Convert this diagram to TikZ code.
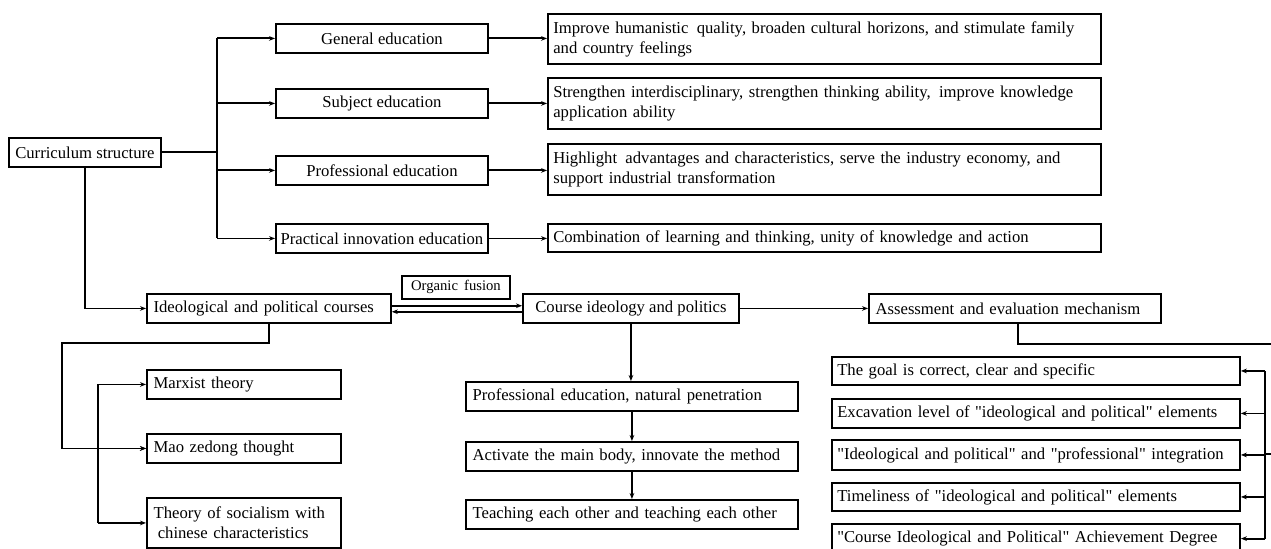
\documentclass[tikz,border=0pt]{standalone}
\usepackage{fontspec}
\setmainfont{Liberation Serif}
\usetikzlibrary{positioning, arrows.meta}
% straight quotes (no tex-text mapping)
\font\straightq="Liberation Serif" at 12.5pt
\newcommand{\sq}{{\straightq\char34}}

\begin{document}
\begin{tikzpicture}[x=0.75pt, y=-0.75pt,
    box/.style={draw, line width=1.4pt, anchor=north west, inner sep=0pt,
        minimum height=21.75pt, font=\fontsize{12.5}{15}\selectfont},
    cbox/.style={box, align=center},
    lbox/.style={box, align=left, inner xsep=5pt},
    aimbox/.style={lbox, inner xsep=4pt, text width=407pt},
    wire/.style={line width=1.4pt},
    link/.style={wire, -{Stealth[length=4.5pt, width=3.5pt]}}]
\useasboundingbox (0,0) rectangle (1271,549);

% Curriculum structure and its four parts
\node[cbox, minimum width=114pt] (cur) at (8,137) {Curriculum structure};
\node[cbox, minimum width=159pt] (gen) at (275,23) {General education};
\node[cbox, minimum width=159pt] (sub) at (275,88) {Subject education};
\node[cbox, minimum width=159pt] (pro) at (275,155) {Professional education};
\node[cbox, minimum width=159pt] (pra) at (275,223) {Practical innovation education};

% Aims of each part
\node[aimbox, minimum height=37.5pt] (imp) at (547,13)
    {Improve humanistic \,quality, broaden cultural horizons, and stimulate family\\and country feelings};
\node[aimbox, minimum height=38pt] (str) at (547,77)
    {Strengthen interdisciplinary, strengthen thinking ability, \,improve knowledge\\application ability};
\node[aimbox, minimum height=38pt] (hig) at (547,143)
    {Highlight \,advantages and characteristics, serve the industry economy, and\\support industrial transformation};
\node[aimbox, minimum height=21pt] (com) at (547,223)
    {Combination of learning and thinking, unity of knowledge and action};

% Middle row
\node[lbox, text width=173pt] (ideo) at (146,293) {Ideological and political courses};
\node[cbox, minimum width=81pt, minimum height=17pt, font=\fontsize{11}{13}\selectfont] (fusion) at (401,275)
    {Organic \,fusion};
\node[cbox, minimum width=162pt] (course) at (522,293) {Course ideology and politics};
\node[lbox, text width=209pt] (assess) at (868,293) {Assessment and evaluation mechanism};

% Ideological and political courses
\node[lbox, text width=135.5pt] (marx) at (146,369) {Marxist theory};
\node[lbox, text width=135.5pt] (mao) at (146,433) {Mao zedong thought};
\node[lbox, text width=135.5pt, minimum height=37.5pt] (soc) at (146,497)
    {Theory of socialism with\\\hspace{0.25em}chinese characteristics};

% Course ideology and politics
\node[lbox, text width=239pt] (pen) at (465,381) {Professional education, natural penetration};
\node[lbox, text width=239pt] (act) at (465,441) {Activate the main body, innovate the method};
\node[lbox, text width=239pt] (teach) at (465,499) {Teaching each other and teaching each other};

% Assessment and evaluation mechanism
\node[lbox, inner xsep=4pt, text width=298pt, minimum height=21pt] (goal) at (831,356)
    {The goal is correct, clear and specific};
\node[lbox, inner xsep=4pt, text width=298pt] (exc) at (831,398)
    {Excavation level of \sq{}ideological and political\sq{} elements};
\node[lbox, inner xsep=4pt, text width=298pt, minimum height=22.5pt] (integ) at (831,439)
    {\sq{}Ideological and political\sq{} and \sq{}professional\sq{} integration};
\node[lbox, inner xsep=4pt, text width=298pt, minimum height=21pt] (time) at (831,482)
    {Timeliness of \sq{}ideological and political\sq{} elements};
\node[lbox, inner xsep=4pt, text width=298pt, minimum height=22pt] (deg) at (831,523)
    {\sq{}Course Ideological and Political\sq{} Achievement Degree};

% Connectors
\coordinate (split) at (217,0);
\draw[wire] (cur.east) -- (cur.east -| split);
\draw[wire] (split |- gen.west) -- (split |- pra.west);
\foreach \n in {gen,sub,pro,pra}
    \draw[link] (split |- \n.west) -- (\n.west);
\foreach \a/\b in {gen/imp,sub/str,pro/hig,pra/com}
    \draw[link] (\a.east) -- (\a.east -| \b.west);

\draw[link] (cur.south) |- (ideo.west);
\draw[link] ([yshift=2pt]ideo.east) -- ([yshift=2pt]ideo.east -| course.west);
\draw[link] ([yshift=-2.5pt]course.west) -- ([yshift=-2.5pt]course.west -| ideo.east);
\draw[link] (course.east) -- (assess.west);

\draw[link] (course.south) -- (course.south |- pen.north);
\draw[link] (pen.south) -- (act.north);
\draw[link] (act.south) -- (teach.north);

\coordinate (bend) at (62,343);
\draw[link] (ideo.south) |- (bend) |- (mao.west);
\coordinate (fork) at (98,0);
\draw[wire] (fork |- marx.west) -- (fork |- soc.west);
\foreach \n in {marx,mao,soc}
    \draw[link] (fork |- \n.west) -- (\n.west);

\coordinate (edge) at (1271,344);
\draw[wire] ([xshift=2pt]assess.south) |- (edge);
\coordinate (stub) at (1271,454);
\coordinate (spine) at (1265,0);
\draw[wire] (stub) -- (spine |- stub);
\draw[wire] (spine |- goal.east) -- (spine |- deg.east);
\foreach \n in {goal,exc,integ,time,deg}
    \draw[link] (spine |- \n.east) -- (\n.east);
\end{tikzpicture}
\end{document}
